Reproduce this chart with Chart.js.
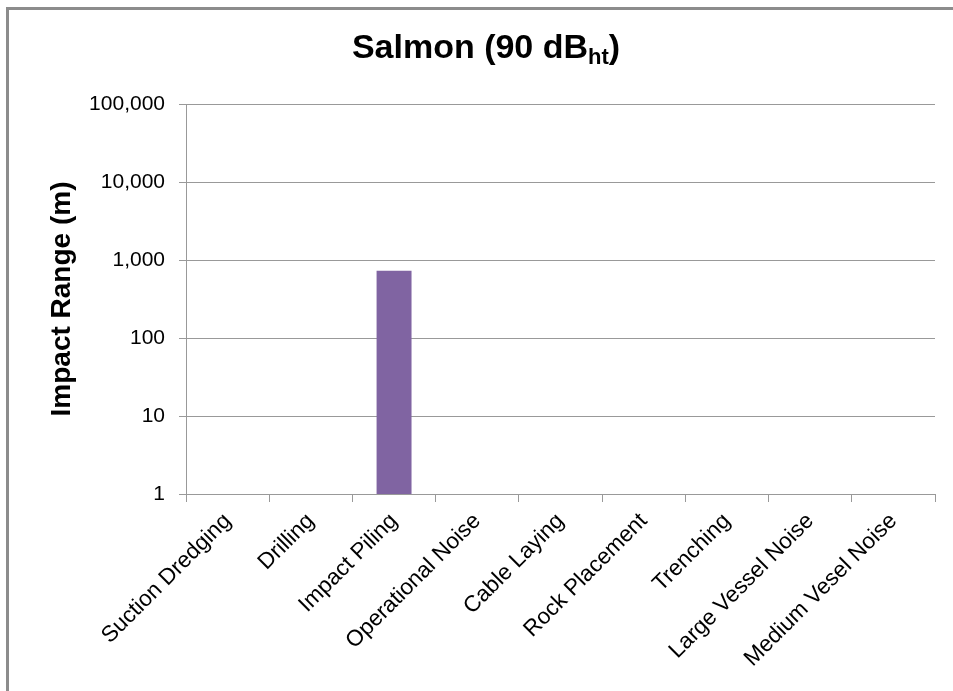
<!DOCTYPE html>
<html lang="en">

<head>
    <meta charset="UTF-8">
    <title>Salmon (90 dBht)</title>
    <script src="https://cdn.jsdelivr.net/npm/chart.js"></script>
    <style>
        body {
            margin: 0;
            background: #fff;
            overflow: hidden;
        }

        .frame {
            position: absolute;
            left: 6px;
            top: 7px;
            right: 0;
            bottom: 0;
            border-left: 3px solid #8c8c8c;
            border-top: 3px solid #8c8c8c;
            pointer-events: none;
        }

        .chart-container {
            position: relative;
            width: 953px;
            height: 691px;
        }
    </style>
</head>

<body>
    <div class="chart-container">
        <canvas id="myChart"></canvas>
    </div>
    <div class="frame"></div>

    <script>
        // chart data
        const categories = ['Suction Dredging', 'Drilling', 'Impact Piling', 'Operational Noise', 'Cable Laying',
            'Rock Placement', 'Trenching', 'Large Vessel Noise', 'Medium Vesel Noise'];
        const impactRange = [null, null, 730, null, null, null, null, null, null];
        const yTicks = [1, 10, 100, 1000, 10000, 100000];
        const titleMain = 'Salmon (90 dB';
        const titleSub = 'ht';
        const titleEnd = ')';
        const yTitle = 'Impact Range (m)';

        const FONT = "'Liberation Sans', Arial, sans-serif";

        // title with subscript
        const titlePlugin = {
            id: 'subTitle',
            afterDraw(chart) {
                const { ctx } = chart;
                ctx.save();
                ctx.fillStyle = '#000';
                ctx.textBaseline = 'alphabetic';
                ctx.textAlign = 'left';
                const big = 'bold 34px ' + FONT;
                const small = 'bold 22px ' + FONT;
                ctx.font = big;
                const w1 = ctx.measureText(titleMain).width;
                const w3 = ctx.measureText(titleEnd).width;
                ctx.font = small;
                const w2 = ctx.measureText(titleSub).width;
                let x = 486 - (w1 + w2 + w3) / 2;
                const y = 58;
                ctx.font = big;
                ctx.fillText(titleMain, x, y);
                x += w1;
                ctx.font = small;
                ctx.fillText(titleSub, x, y + 6);
                x += w2;
                ctx.font = big;
                ctx.fillText(titleEnd, x, y);
                ctx.restore();
            }
        };

        const ctx = document.getElementById('myChart').getContext('2d');
        const chart = new Chart(ctx, {
            type: 'bar',
            data: {
                labels: categories,
                datasets: [{
                    label: 'Impact Range',
                    data: impactRange,
                    backgroundColor: '#8064A2',
                    borderWidth: 0,
                    barPercentage: 0.42,
                    categoryPercentage: 1.0
                }]
            },
            options: {
                responsive: true,
                maintainAspectRatio: false,
                animation: false,
                layout: {
                    padding: { top: 104, left: 0, right: 18, bottom: 0 }
                },
                scales: {
                    x: {
                        afterFit(scale) { scale.height = 197; },
                        grid: {
                            offset: true,
                            drawOnChartArea: false,
                            tickLength: 8,
                            color: '#999'
                        },
                        border: { color: '#999' },
                        ticks: {
                            autoSkip: false,
                            minRotation: 45,
                            maxRotation: 45,
                            padding: 6,
                            color: '#000',
                            font: { family: FONT, size: 22.5 }
                        }
                    },
                    y: {
                        type: 'logarithmic',
                        min: 1,
                        max: 100000,
                        afterFit(scale) { scale.width = 186; },
                        afterBuildTicks(scale) {
                            scale.ticks = yTicks.map(v => ({ value: v }));
                        },
                        grid: {
                            color: '#999',
                            tickLength: 7
                        },
                        border: { color: '#999' },
                        ticks: {
                            padding: 14,
                            color: '#000',
                            font: { family: FONT, size: 21 },
                            callback: (v) => Number(v).toLocaleString('en-US')
                        },
                        title: {
                            display: true,
                            text: yTitle,
                            color: '#000',
                            font: { family: FONT, size: 28, weight: 'bold' },
                            padding: { top: 45 }
                        }
                    }
                },
                plugins: {
                    legend: { display: false },
                    tooltip: { enabled: false }
                }
            },
            plugins: [titlePlugin]
        });
    </script>
</body>

</html>
